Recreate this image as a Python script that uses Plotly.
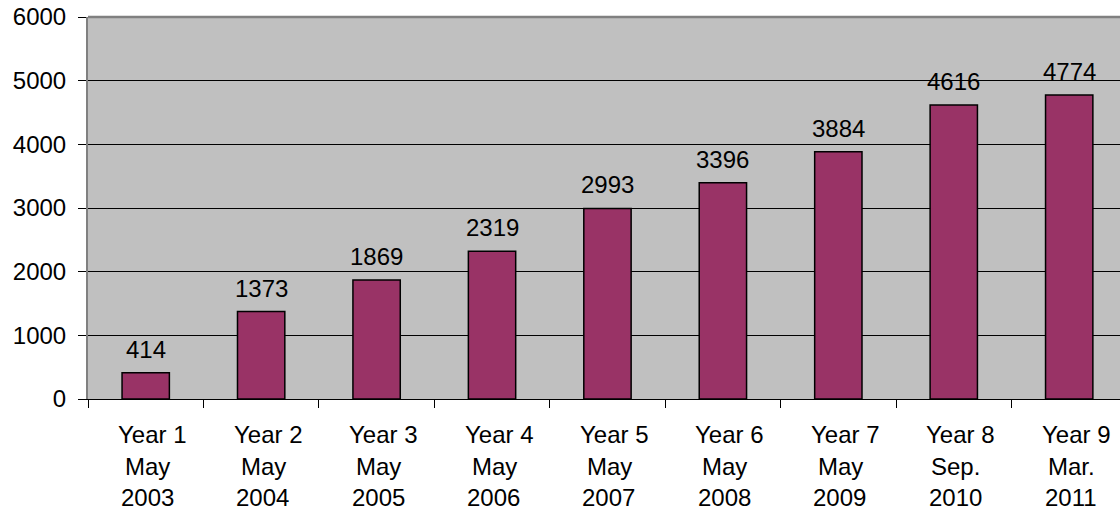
import plotly.graph_objects as go

years = ["Year 1", "Year 2", "Year 3", "Year 4", "Year 5", "Year 6", "Year 7", "Year 8", "Year 9"]
months = ["May", "May", "May", "May", "May", "May", "May", "Sep.", "Mar."]
yrs = ["2003", "2004", "2005", "2006", "2007", "2008", "2009", "2010", "2011"]
values = [414, 1373, 1869, 2319, 2993, 3396, 3884, 4616, 4774]
y_ticks = [0, 1000, 2000, 3000, 4000, 5000, 6000]

FONT = "Liberation Sans, Arial, sans-serif"
FS = 24
cats = list(range(len(values)))

fig = go.Figure()
fig.add_trace(go.Bar(
    x=cats, y=values,
    marker=dict(color="#993366", line=dict(color="#000000", width=1.5)),
    width=0.41, hoverinfo="skip",
))

annotations = []
for i, v in enumerate(values):
    annotations.append(dict(x=i, y=v, xref="x", yref="y", text=str(v), showarrow=False,
                            yanchor="bottom", yshift=8,
                            font=dict(family=FONT, size=FS, color="#000000")))
    for line, shift, xs in ((years[i], -35.5, 7), (months[i], -67, 2), (yrs[i], -98.5, 1.5)):
        annotations.append(dict(x=i, y=0, xref="x", yref="paper", text=line, showarrow=False,
                                yanchor="middle", yshift=shift, xshift=xs,
                                font=dict(family=FONT, size=FS, color="#000000")))

fig.update_layout(
    width=1120, height=511,
    margin=dict(l=88, r=0, t=17, b=111.5),
    paper_bgcolor="#FFFFFF", plot_bgcolor="#C0C0C0",
    showlegend=False,
    annotations=annotations,
    xaxis=dict(
        type="linear", range=[-0.5, 8.44], tickvals=[i - 0.5 for i in cats], ticktext=[""] * len(cats),
        ticks="outside", ticklen=8, tickcolor="#000000", tickwidth=1,
        showgrid=False, zeroline=False, showline=True, linecolor="#000000", linewidth=1,
    ),
    yaxis=dict(
        range=[0, 6000], tickvals=y_ticks, ticks="outside", ticklen=8, tickcolor="#000000",
        showgrid=True, gridcolor="#000000", gridwidth=1, zeroline=False,
        showline=True, linecolor="#808080", linewidth=2, ticklabelstandoff=7,
        tickfont=dict(family=FONT, size=FS, color="#000000"),
    ),
    shapes=[dict(type="line", xref="paper", yref="paper", x0=0, x1=1, y0=1, y1=1,
                 line=dict(color="#808080", width=2.5))],
)

fig.write_html("out.html", config={"displayModeBar": False},
               post_script="document.body.style.margin='0';")
